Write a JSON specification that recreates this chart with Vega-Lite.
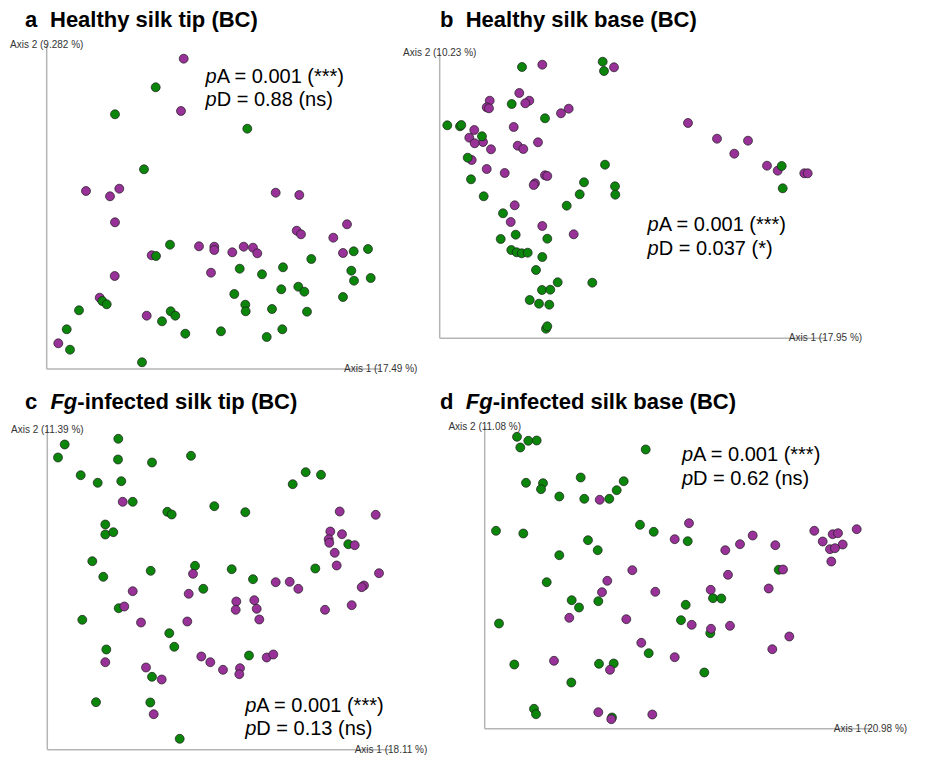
{
"$schema": "https://vega.github.io/schema/vega-lite/v6.json",
"padding": 0,
"background": "white",
"columns": 2,
"spacing": 0,
"bounds": "flush",
"config": {"view": {"stroke": null}, "font": "Liberation Sans"},
"datasets": {
"axes": [
{"panel":"a","x":0,"x2":334,"y":0,"y2":0},{"panel":"a","x":0,"x2":0,"y":0,"y2":324.5},
{"panel":"b","x":0,"x2":385.8,"y":0,"y2":0},{"panel":"b","x":0,"x2":0,"y":0,"y2":285.3},
{"panel":"c","x":0,"x2":343.7,"y":0,"y2":0},{"panel":"c","x":0,"x2":0,"y":0,"y2":320.3},
{"panel":"d","x":0,"x2":385.8,"y":0,"y2":0},{"panel":"d","x":0,"x2":0,"y":0,"y2":302.3}
],
"labels": [
{"panel":"a","role":"title","text":"a","x":-21.7,"y":342.3},
{"panel":"a","role":"title","text":"Healthy silk tip (BC)","x":3.3,"y":342.3},
{"panel":"a","role":"p","text":"p","x":170,"y":286},
{"panel":"a","role":"p","text":"p","x":170,"y":262.7},
{"panel":"a","role":"stat","text":"A = 0.001 (***)","x":170,"y":286},
{"panel":"a","role":"stat","text":"D = 0.88 (ns)","x":170,"y":262.7},
{"panel":"a","role":"axis","text":"Axis 2 (9.282 %)","x":0,"y":324.5},
{"panel":"a","role":"axis","text":"Axis 1 (17.49 %)","x":334,"y":0},
{"panel":"b","role":"title","text":"b","x":0.3,"y":311.6},
{"panel":"b","role":"title","text":"Healthy silk base (BC)","x":26,"y":311.6},
{"panel":"b","role":"p","text":"p","x":219,"y":107},
{"panel":"b","role":"p","text":"p","x":219,"y":83.3},
{"panel":"b","role":"stat","text":"A = 0.001 (***)","x":219,"y":107},
{"panel":"b","role":"stat","text":"D = 0.037 (*)","x":219,"y":83.3},
{"panel":"b","role":"axis","text":"Axis 2 (10.23 %)","x":0,"y":285.3},
{"panel":"b","role":"axis","text":"Axis 1 (17.95 %)","x":385.8,"y":0},
{"panel":"c","role":"title","text":"c","x":-22.3,"y":341},
{"panel":"c","role":"titleItalic","text":"Fg","x":30,"y":341},
{"panel":"c","role":"title","text":"-infected silk tip (BC)","x":30,"y":341},
{"panel":"c","role":"p","text":"p","x":209,"y":37.6},
{"panel":"c","role":"p","text":"p","x":209,"y":15.3},
{"panel":"c","role":"stat","text":"A = 0.001 (***)","x":209,"y":37.6},
{"panel":"c","role":"stat","text":"D = 0.13 (ns)","x":209,"y":15.3},
{"panel":"c","role":"axis","text":"Axis 2 (11.39 %)","x":0,"y":320.3},
{"panel":"c","role":"axis","text":"Axis 1 (18.11 %)","x":343.7,"y":0},
{"panel":"d","role":"title","text":"d","x":-44.7,"y":320},
{"panel":"d","role":"titleItalic","text":"Fg","x":8,"y":320},
{"panel":"d","role":"title","text":"-infected silk base (BC)","x":8,"y":320},
{"panel":"d","role":"p","text":"p","x":208.3,"y":268.3},
{"panel":"d","role":"p","text":"p","x":208.3,"y":244.3},
{"panel":"d","role":"stat","text":"A = 0.001 (***)","x":208.3,"y":268.3},
{"panel":"d","role":"stat","text":"D = 0.62 (ns)","x":208.3,"y":244.3},
{"panel":"d","role":"axis","text":"Axis 2 (11.08 %)","x":0,"y":302.3},
{"panel":"d","role":"axis","text":"Axis 1 (20.98 %)","x":385.8,"y":0}
],
"points": [
{"panel":"a","group":"G2","x":137.0,"y":310.3},{"panel":"a","group":"G2","x":134.3,"y":258.0},{"panel":"a","group":"G2","x":39.3,"y":178.0},{"panel":"a","group":"G2","x":63.3,"y":172.7},{"panel":"a","group":"G2","x":72.6,"y":180.3},{"panel":"a","group":"G2","x":68.3,"y":146.7},{"panel":"a","group":"G2","x":229.0,"y":176.3},{"panel":"a","group":"G2","x":252.6,"y":174.0},{"panel":"a","group":"G2","x":300.3,"y":144.7},{"panel":"a","group":"G2","x":250.0,"y":138.3},{"panel":"a","group":"G2","x":254.3,"y":134.7},{"panel":"a","group":"G2","x":286.6,"y":131.3},{"panel":"a","group":"G2","x":296.3,"y":116.0},{"panel":"a","group":"G2","x":152.3,"y":122.7},{"panel":"a","group":"G2","x":167.6,"y":122.3},{"panel":"a","group":"G2","x":167.6,"y":119.0},{"panel":"a","group":"G2","x":185.6,"y":116.7},{"panel":"a","group":"G2","x":197.0,"y":122.3},{"panel":"a","group":"G2","x":206.3,"y":121.3},{"panel":"a","group":"G2","x":210.6,"y":115.7},{"panel":"a","group":"G2","x":105.0,"y":113.7},{"panel":"a","group":"G2","x":164.3,"y":96.3},{"panel":"a","group":"G2","x":68.0,"y":93.0},{"panel":"a","group":"G2","x":53.0,"y":71.3},{"panel":"a","group":"G2","x":100.0,"y":53.3},{"panel":"a","group":"G2","x":11.6,"y":25.7},
{"panel":"a","group":"G1","x":109.0,"y":281.7},{"panel":"a","group":"G1","x":68.3,"y":254.7},{"panel":"a","group":"G1","x":200.6,"y":240.3},{"panel":"a","group":"G1","x":97.3,"y":199.7},{"panel":"a","group":"G1","x":123.3,"y":124.3},{"panel":"a","group":"G1","x":109.3,"y":113.0},{"panel":"a","group":"G1","x":321.3,"y":120.0},{"panel":"a","group":"G1","x":307.0,"y":117.7},{"panel":"a","group":"G1","x":264.6,"y":110.0},{"panel":"a","group":"G1","x":193.0,"y":100.3},{"panel":"a","group":"G1","x":236.3,"y":101.7},{"panel":"a","group":"G1","x":215.3,"y":94.7},{"panel":"a","group":"G1","x":304.6,"y":98.3},{"panel":"a","group":"G1","x":324.0,"y":91.0},{"panel":"a","group":"G1","x":307.3,"y":88.3},{"panel":"a","group":"G1","x":187.6,"y":75.0},{"panel":"a","group":"G1","x":234.6,"y":79.7},{"panel":"a","group":"G1","x":251.6,"y":82.3},{"panel":"a","group":"G1","x":257.6,"y":77.3},{"panel":"a","group":"G1","x":296.3,"y":72.0},{"panel":"a","group":"G1","x":198.6,"y":64.3},{"panel":"a","group":"G1","x":199.0,"y":57.7},{"panel":"a","group":"G1","x":225.3,"y":60.0},{"panel":"a","group":"G1","x":260.3,"y":57.3},{"panel":"a","group":"G1","x":55.6,"y":68.0},{"panel":"a","group":"G1","x":60.0,"y":64.7},{"panel":"a","group":"G1","x":32.3,"y":58.7},{"panel":"a","group":"G1","x":124.0,"y":57.7},{"panel":"a","group":"G1","x":128.6,"y":53.3},{"panel":"a","group":"G1","x":115.3,"y":47.7},{"panel":"a","group":"G1","x":20.0,"y":39.7},{"panel":"a","group":"G1","x":138.6,"y":35.3},{"panel":"a","group":"G1","x":174.3,"y":37.7},{"panel":"a","group":"G1","x":235.6,"y":39.7},{"panel":"a","group":"G1","x":220.0,"y":32.0},{"panel":"a","group":"G1","x":23.3,"y":19.3},{"panel":"a","group":"G1","x":95.3,"y":6.7},
{"panel":"b","group":"G2","x":102.6,"y":273.6},{"panel":"b","group":"G2","x":174.3,"y":271.0},{"panel":"b","group":"G2","x":79.6,"y":245.3},{"panel":"b","group":"G2","x":50.0,"y":237.6},{"panel":"b","group":"G2","x":47.0,"y":231.0},{"panel":"b","group":"G2","x":49.3,"y":230.0},{"panel":"b","group":"G2","x":89.6,"y":237.6},{"panel":"b","group":"G2","x":85.6,"y":235.0},{"panel":"b","group":"G2","x":129.0,"y":229.6},{"panel":"b","group":"G2","x":121.3,"y":225.0},{"panel":"b","group":"G2","x":74.0,"y":211.3},{"panel":"b","group":"G2","x":34.6,"y":208.3},{"panel":"b","group":"G2","x":29.6,"y":200.6},{"panel":"b","group":"G2","x":43.3,"y":196.3},{"panel":"b","group":"G2","x":35.0,"y":195.0},{"panel":"b","group":"G2","x":51.3,"y":189.0},{"panel":"b","group":"G2","x":78.0,"y":192.6},{"panel":"b","group":"G2","x":83.6,"y":189.3},{"panel":"b","group":"G2","x":98.3,"y":196.0},{"panel":"b","group":"G2","x":32.0,"y":178.3},{"panel":"b","group":"G2","x":47.0,"y":169.3},{"panel":"b","group":"G2","x":65.0,"y":165.3},{"panel":"b","group":"G2","x":105.3,"y":163.0},{"panel":"b","group":"G2","x":107.6,"y":162.3},{"panel":"b","group":"G2","x":95.3,"y":155.0},{"panel":"b","group":"G2","x":94.0,"y":153.3},{"panel":"b","group":"G2","x":75.0,"y":133.0},{"panel":"b","group":"G2","x":71.0,"y":116.3},{"panel":"b","group":"G2","x":102.6,"y":112.3},{"panel":"b","group":"G2","x":134.0,"y":104.0},{"panel":"b","group":"G2","x":248.3,"y":215.3},{"panel":"b","group":"G2","x":277.3,"y":199.6},{"panel":"b","group":"G2","x":308.3,"y":197.6},{"panel":"b","group":"G2","x":294.6,"y":184.6},{"panel":"b","group":"G2","x":327.3,"y":172.6},{"panel":"b","group":"G2","x":338.0,"y":167.6},{"panel":"b","group":"G2","x":364.6,"y":165.0},{"panel":"b","group":"G2","x":368.0,"y":165.0},
{"panel":"b","group":"G1","x":82.3,"y":271.3},{"panel":"b","group":"G1","x":163.0,"y":276.6},{"panel":"b","group":"G1","x":164.3,"y":267.3},{"panel":"b","group":"G1","x":72.0,"y":234.3},{"panel":"b","group":"G1","x":105.3,"y":220.0},{"panel":"b","group":"G1","x":7.6,"y":213.0},{"panel":"b","group":"G1","x":20.3,"y":212.0},{"panel":"b","group":"G1","x":21.6,"y":213.3},{"panel":"b","group":"G1","x":42.3,"y":202.0},{"panel":"b","group":"G1","x":28.0,"y":180.6},{"panel":"b","group":"G1","x":165.3,"y":173.6},{"panel":"b","group":"G1","x":31.3,"y":159.0},{"panel":"b","group":"G1","x":144.3,"y":156.0},{"panel":"b","group":"G1","x":175.3,"y":152.0},{"panel":"b","group":"G1","x":175.6,"y":143.6},{"panel":"b","group":"G1","x":140.0,"y":144.0},{"panel":"b","group":"G1","x":44.0,"y":142.0},{"panel":"b","group":"G1","x":127.0,"y":132.6},{"panel":"b","group":"G1","x":63.3,"y":125.0},{"panel":"b","group":"G1","x":76.0,"y":103.6},{"panel":"b","group":"G1","x":61.0,"y":99.3},{"panel":"b","group":"G1","x":107.6,"y":99.6},{"panel":"b","group":"G1","x":71.6,"y":88.3},{"panel":"b","group":"G1","x":77.0,"y":86.0},{"panel":"b","group":"G1","x":82.0,"y":85.0},{"panel":"b","group":"G1","x":88.0,"y":85.6},{"panel":"b","group":"G1","x":102.6,"y":81.3},{"panel":"b","group":"G1","x":96.3,"y":68.3},{"panel":"b","group":"G1","x":118.0,"y":56.0},{"panel":"b","group":"G1","x":152.6,"y":55.6},{"panel":"b","group":"G1","x":102.3,"y":48.3},{"panel":"b","group":"G1","x":110.6,"y":48.6},{"panel":"b","group":"G1","x":90.0,"y":38.3},{"panel":"b","group":"G1","x":99.3,"y":34.6},{"panel":"b","group":"G1","x":109.6,"y":33.6},{"panel":"b","group":"G1","x":106.3,"y":9.6},{"panel":"b","group":"G1","x":107.6,"y":12.0},{"panel":"b","group":"G1","x":342.0,"y":172.3},{"panel":"b","group":"G1","x":343.0,"y":150.0},
{"panel":"c","group":"G1","x":71.0,"y":311.0},{"panel":"c","group":"G1","x":17.4,"y":305.3},{"panel":"c","group":"G1","x":10.7,"y":292.3},{"panel":"c","group":"G1","x":70.7,"y":290.3},{"panel":"c","group":"G1","x":104.7,"y":287.3},{"panel":"c","group":"G1","x":143.7,"y":294.0},{"panel":"c","group":"G1","x":33.4,"y":274.6},{"panel":"c","group":"G1","x":50.4,"y":267.0},{"panel":"c","group":"G1","x":74.0,"y":268.6},{"panel":"c","group":"G1","x":258.4,"y":277.6},{"panel":"c","group":"G1","x":273.7,"y":275.0},{"panel":"c","group":"G1","x":245.4,"y":265.6},{"panel":"c","group":"G1","x":85.4,"y":248.0},{"panel":"c","group":"G1","x":120.0,"y":238.0},{"panel":"c","group":"G1","x":124.4,"y":235.3},{"panel":"c","group":"G1","x":167.0,"y":243.6},{"panel":"c","group":"G1","x":198.0,"y":237.6},{"panel":"c","group":"G1","x":58.0,"y":225.3},{"panel":"c","group":"G1","x":58.0,"y":215.3},{"panel":"c","group":"G1","x":66.0,"y":217.6},{"panel":"c","group":"G1","x":45.0,"y":188.6},{"panel":"c","group":"G1","x":56.0,"y":173.0},{"panel":"c","group":"G1","x":103.4,"y":179.0},{"panel":"c","group":"G1","x":147.7,"y":184.0},{"panel":"c","group":"G1","x":184.4,"y":180.6},{"panel":"c","group":"G1","x":268.0,"y":181.3},{"panel":"c","group":"G1","x":301.0,"y":205.6},{"panel":"c","group":"G1","x":205.7,"y":170.6},{"panel":"c","group":"G1","x":156.0,"y":161.0},{"panel":"c","group":"G1","x":71.4,"y":141.6},{"panel":"c","group":"G1","x":35.0,"y":130.0},{"panel":"c","group":"G1","x":122.0,"y":116.6},{"panel":"c","group":"G1","x":127.0,"y":103.0},{"panel":"c","group":"G1","x":59.0,"y":100.3},{"panel":"c","group":"G1","x":201.7,"y":94.3},{"panel":"c","group":"G1","x":104.7,"y":73.0},{"panel":"c","group":"G1","x":48.7,"y":47.6},{"panel":"c","group":"G1","x":103.0,"y":47.3},{"panel":"c","group":"G1","x":132.4,"y":11.0},
{"panel":"c","group":"G2","x":75.4,"y":248.0},{"panel":"c","group":"G2","x":292.4,"y":238.3},{"panel":"c","group":"G2","x":328.4,"y":235.0},{"panel":"c","group":"G2","x":283.0,"y":218.3},{"panel":"c","group":"G2","x":294.7,"y":215.6},{"panel":"c","group":"G2","x":281.4,"y":210.6},{"panel":"c","group":"G2","x":282.0,"y":207.0},{"panel":"c","group":"G2","x":307.4,"y":204.6},{"panel":"c","group":"G2","x":287.4,"y":197.0},{"panel":"c","group":"G2","x":289.4,"y":184.3},{"panel":"c","group":"G2","x":331.7,"y":176.6},{"panel":"c","group":"G2","x":145.7,"y":176.0},{"panel":"c","group":"G2","x":228.4,"y":167.6},{"panel":"c","group":"G2","x":242.4,"y":168.0},{"panel":"c","group":"G2","x":251.0,"y":161.0},{"panel":"c","group":"G2","x":316.7,"y":164.3},{"panel":"c","group":"G2","x":314.4,"y":162.6},{"panel":"c","group":"G2","x":85.4,"y":158.6},{"panel":"c","group":"G2","x":141.4,"y":156.0},{"panel":"c","group":"G2","x":189.0,"y":148.3},{"panel":"c","group":"G2","x":188.4,"y":140.0},{"panel":"c","group":"G2","x":207.0,"y":149.6},{"panel":"c","group":"G2","x":209.4,"y":141.0},{"panel":"c","group":"G2","x":212.0,"y":130.3},{"panel":"c","group":"G2","x":277.7,"y":140.0},{"panel":"c","group":"G2","x":304.4,"y":144.6},{"panel":"c","group":"G2","x":77.0,"y":143.3},{"panel":"c","group":"G2","x":93.7,"y":127.3},{"panel":"c","group":"G2","x":140.0,"y":128.3},{"panel":"c","group":"G2","x":154.0,"y":93.3},{"panel":"c","group":"G2","x":163.0,"y":87.6},{"panel":"c","group":"G2","x":175.7,"y":80.0},{"panel":"c","group":"G2","x":192.7,"y":81.6},{"panel":"c","group":"G2","x":192.0,"y":75.6},{"panel":"c","group":"G2","x":219.4,"y":92.3},{"panel":"c","group":"G2","x":226.0,"y":95.3},{"panel":"c","group":"G2","x":58.0,"y":87.6},{"panel":"c","group":"G2","x":98.7,"y":82.3},{"panel":"c","group":"G2","x":114.4,"y":70.3},{"panel":"c","group":"G2","x":106.4,"y":35.6},
{"panel":"d","group":"G1","x":32.3,"y":292.0},{"panel":"d","group":"G1","x":43.6,"y":288.0},{"panel":"d","group":"G1","x":52.0,"y":288.3},{"panel":"d","group":"G1","x":35.6,"y":281.3},{"panel":"d","group":"G1","x":161.0,"y":279.3},{"panel":"d","group":"G1","x":41.3,"y":246.0},{"panel":"d","group":"G1","x":58.3,"y":245.6},{"panel":"d","group":"G1","x":56.3,"y":239.6},{"panel":"d","group":"G1","x":96.0,"y":251.3},{"panel":"d","group":"G1","x":139.0,"y":247.6},{"panel":"d","group":"G1","x":132.0,"y":238.6},{"panel":"d","group":"G1","x":74.6,"y":232.3},{"panel":"d","group":"G1","x":99.6,"y":230.0},{"panel":"d","group":"G1","x":124.6,"y":230.0},{"panel":"d","group":"G1","x":11.3,"y":198.0},{"panel":"d","group":"G1","x":38.6,"y":195.3},{"panel":"d","group":"G1","x":155.3,"y":204.0},{"panel":"d","group":"G1","x":169.0,"y":197.0},{"panel":"d","group":"G1","x":103.3,"y":188.6},{"panel":"d","group":"G1","x":113.0,"y":178.6},{"panel":"d","group":"G1","x":203.0,"y":187.6},{"panel":"d","group":"G1","x":74.6,"y":173.6},{"panel":"d","group":"G1","x":62.0,"y":146.6},{"panel":"d","group":"G1","x":294.0,"y":159.0},{"panel":"d","group":"G1","x":87.0,"y":128.6},{"panel":"d","group":"G1","x":94.3,"y":121.3},{"panel":"d","group":"G1","x":113.6,"y":127.6},{"panel":"d","group":"G1","x":228.3,"y":130.6},{"panel":"d","group":"G1","x":236.6,"y":130.3},{"panel":"d","group":"G1","x":201.0,"y":124.0},{"panel":"d","group":"G1","x":14.3,"y":105.3},{"panel":"d","group":"G1","x":196.3,"y":108.6},{"panel":"d","group":"G1","x":225.6,"y":95.6},{"panel":"d","group":"G1","x":164.0,"y":75.6},{"panel":"d","group":"G1","x":29.6,"y":64.3},{"panel":"d","group":"G1","x":114.3,"y":65.0},{"panel":"d","group":"G1","x":129.0,"y":65.3},{"panel":"d","group":"G1","x":219.6,"y":56.3},{"panel":"d","group":"G1","x":86.6,"y":46.3},{"panel":"d","group":"G1","x":49.3,"y":20.0},{"panel":"d","group":"G1","x":51.3,"y":14.6},{"panel":"d","group":"G1","x":127.3,"y":11.3},
{"panel":"d","group":"G2","x":115.0,"y":229.0},{"panel":"d","group":"G2","x":204.3,"y":205.6},{"panel":"d","group":"G2","x":190.0,"y":189.6},{"panel":"d","group":"G2","x":268.0,"y":193.3},{"panel":"d","group":"G2","x":255.3,"y":184.6},{"panel":"d","group":"G2","x":240.6,"y":178.6},{"panel":"d","group":"G2","x":290.6,"y":183.6},{"panel":"d","group":"G2","x":329.6,"y":198.0},{"panel":"d","group":"G2","x":348.0,"y":194.6},{"panel":"d","group":"G2","x":353.3,"y":195.6},{"panel":"d","group":"G2","x":372.0,"y":199.6},{"panel":"d","group":"G2","x":338.0,"y":187.3},{"panel":"d","group":"G2","x":358.0,"y":184.3},{"panel":"d","group":"G2","x":345.3,"y":179.6},{"panel":"d","group":"G2","x":350.3,"y":180.6},{"panel":"d","group":"G2","x":346.6,"y":167.3},{"panel":"d","group":"G2","x":298.3,"y":159.3},{"panel":"d","group":"G2","x":147.6,"y":158.6},{"panel":"d","group":"G2","x":243.3,"y":154.0},{"panel":"d","group":"G2","x":122.6,"y":148.0},{"panel":"d","group":"G2","x":117.3,"y":136.6},{"panel":"d","group":"G2","x":170.6,"y":137.0},{"panel":"d","group":"G2","x":226.0,"y":139.0},{"panel":"d","group":"G2","x":284.0,"y":140.3},{"panel":"d","group":"G2","x":84.6,"y":111.0},{"panel":"d","group":"G2","x":141.6,"y":109.6},{"panel":"d","group":"G2","x":207.0,"y":104.0},{"panel":"d","group":"G2","x":245.3,"y":103.0},{"panel":"d","group":"G2","x":226.3,"y":100.0},{"panel":"d","group":"G2","x":304.6,"y":92.3},{"panel":"d","group":"G2","x":287.6,"y":79.6},{"panel":"d","group":"G2","x":156.6,"y":86.0},{"panel":"d","group":"G2","x":190.0,"y":71.6},{"panel":"d","group":"G2","x":69.3,"y":68.0},{"panel":"d","group":"G2","x":125.3,"y":59.0},{"panel":"d","group":"G2","x":113.6,"y":16.6},{"panel":"d","group":"G2","x":167.6,"y":14.3},{"panel":"d","group":"G2","x":126.6,"y":9.6}
]
},
"concat": [
{"width": 467, "height": 378.5,
 "layer": [
  {"data": {"name": "axes"}, "transform": [{"filter": "datum.panel === 'a'"}], "mark": {"type": "rule", "color": "#b5b5b5", "strokeWidth": 1.5},
   "encoding": {"x": {"field": "x", "type": "quantitative", "scale": {"domain": [-46.7, 420.3], "nice": false, "zero": false}, "axis": null}, "x2": {"field": "x2"},
                "y": {"field": "y", "type": "quantitative", "scale": {"domain": [-9.5, 369], "nice": false, "zero": false}, "axis": null}, "y2": {"field": "y2"}}},
  {"data": {"name": "points"}, "transform": [{"filter": "datum.panel === 'a'"}], "mark": {"type": "circle", "size": 80, "opacity": 1, "stroke": "#1c1c1c", "strokeWidth": 0.7},
   "encoding": {"x": {"field": "x", "type": "quantitative"}, "y": {"field": "y", "type": "quantitative"},
                "color": {"field": "group", "type": "nominal", "scale": {"domain": ["G1", "G2"], "range": ["#0b860b", "#983298"]}, "legend": null}}},
  {"data": {"name": "labels"}, "transform": [{"filter": "datum.panel === 'a' && datum.role === 'axis'"}], "mark": {"type": "text", "align": "center", "baseline": "middle", "fontSize": 10, "color": "#333333"},
   "encoding": {"x": {"field": "x", "type": "quantitative"}, "y": {"field": "y", "type": "quantitative"}, "text": {"field": "text"}}},
  {"data": {"name": "labels"}, "transform": [{"filter": "datum.panel === 'a' && datum.role === 'title'"}], "mark": {"type": "text", "align": "left", "baseline": "alphabetic", "fontSize": 22, "fontWeight": "bold", "color": "black"},
   "encoding": {"x": {"field": "x", "type": "quantitative"}, "y": {"field": "y", "type": "quantitative"}, "text": {"field": "text"}}},
  {"data": {"name": "labels"}, "transform": [{"filter": "datum.panel === 'a' && datum.role === 'p'"}], "mark": {"type": "text", "align": "right", "baseline": "alphabetic", "fontSize": 20, "fontStyle": "italic", "color": "black"},
   "encoding": {"x": {"field": "x", "type": "quantitative"}, "y": {"field": "y", "type": "quantitative"}, "text": {"field": "text"}}},
  {"data": {"name": "labels"}, "transform": [{"filter": "datum.panel === 'a' && datum.role === 'stat'"}], "mark": {"type": "text", "align": "left", "baseline": "alphabetic", "fontSize": 20, "color": "black"},
   "encoding": {"x": {"field": "x", "type": "quantitative"}, "y": {"field": "y", "type": "quantitative"}, "text": {"field": "text"}}}
 ]},
{"width": 467, "height": 378.5,
 "layer": [
  {"data": {"name": "axes"}, "transform": [{"filter": "datum.panel === 'b'"}], "mark": {"type": "rule", "color": "#b5b5b5", "strokeWidth": 1.5},
   "encoding": {"x": {"field": "x", "type": "quantitative", "scale": {"domain": [27.3, 494.3], "nice": false, "zero": false}, "axis": null}, "x2": {"field": "x2"},
                "y": {"field": "y", "type": "quantitative", "scale": {"domain": [-40.2, 338.3], "nice": false, "zero": false}, "axis": null}, "y2": {"field": "y2"}}},
  {"data": {"name": "points"}, "transform": [{"filter": "datum.panel === 'b'"}], "mark": {"type": "circle", "size": 80, "opacity": 1, "stroke": "#1c1c1c", "strokeWidth": 0.7},
   "encoding": {"x": {"field": "x", "type": "quantitative"}, "y": {"field": "y", "type": "quantitative"},
                "color": {"field": "group", "type": "nominal", "scale": {"domain": ["G1", "G2"], "range": ["#0b860b", "#983298"]}, "legend": null}}},
  {"data": {"name": "labels"}, "transform": [{"filter": "datum.panel === 'b' && datum.role === 'axis'"}], "mark": {"type": "text", "align": "center", "baseline": "middle", "fontSize": 10, "color": "#333333"},
   "encoding": {"x": {"field": "x", "type": "quantitative"}, "y": {"field": "y", "type": "quantitative"}, "text": {"field": "text"}}},
  {"data": {"name": "labels"}, "transform": [{"filter": "datum.panel === 'b' && datum.role === 'title'"}], "mark": {"type": "text", "align": "left", "baseline": "alphabetic", "fontSize": 22, "fontWeight": "bold", "color": "black"},
   "encoding": {"x": {"field": "x", "type": "quantitative"}, "y": {"field": "y", "type": "quantitative"}, "text": {"field": "text"}}},
  {"data": {"name": "labels"}, "transform": [{"filter": "datum.panel === 'b' && datum.role === 'p'"}], "mark": {"type": "text", "align": "right", "baseline": "alphabetic", "fontSize": 20, "fontStyle": "italic", "color": "black"},
   "encoding": {"x": {"field": "x", "type": "quantitative"}, "y": {"field": "y", "type": "quantitative"}, "text": {"field": "text"}}},
  {"data": {"name": "labels"}, "transform": [{"filter": "datum.panel === 'b' && datum.role === 'stat'"}], "mark": {"type": "text", "align": "left", "baseline": "alphabetic", "fontSize": 20, "color": "black"},
   "encoding": {"x": {"field": "x", "type": "quantitative"}, "y": {"field": "y", "type": "quantitative"}, "text": {"field": "text"}}}
 ]},
{"width": 467, "height": 378.5,
 "layer": [
  {"data": {"name": "axes"}, "transform": [{"filter": "datum.panel === 'c'"}], "mark": {"type": "rule", "color": "#b5b5b5", "strokeWidth": 1.5},
   "encoding": {"x": {"field": "x", "type": "quantitative", "scale": {"domain": [-47.3, 419.7], "nice": false, "zero": false}, "axis": null}, "x2": {"field": "x2"},
                "y": {"field": "y", "type": "quantitative", "scale": {"domain": [-7.7, 370.8], "nice": false, "zero": false}, "axis": null}, "y2": {"field": "y2"}}},
  {"data": {"name": "points"}, "transform": [{"filter": "datum.panel === 'c'"}], "mark": {"type": "circle", "size": 80, "opacity": 1, "stroke": "#1c1c1c", "strokeWidth": 0.7},
   "encoding": {"x": {"field": "x", "type": "quantitative"}, "y": {"field": "y", "type": "quantitative"},
                "color": {"field": "group", "type": "nominal", "scale": {"domain": ["G1", "G2"], "range": ["#0b860b", "#983298"]}, "legend": null}}},
  {"data": {"name": "labels"}, "transform": [{"filter": "datum.panel === 'c' && datum.role === 'axis'"}], "mark": {"type": "text", "align": "center", "baseline": "middle", "fontSize": 10, "color": "#333333"},
   "encoding": {"x": {"field": "x", "type": "quantitative"}, "y": {"field": "y", "type": "quantitative"}, "text": {"field": "text"}}},
  {"data": {"name": "labels"}, "transform": [{"filter": "datum.panel === 'c' && datum.role === 'title'"}], "mark": {"type": "text", "align": "left", "baseline": "alphabetic", "fontSize": 22, "fontWeight": "bold", "color": "black"},
   "encoding": {"x": {"field": "x", "type": "quantitative"}, "y": {"field": "y", "type": "quantitative"}, "text": {"field": "text"}}},
  {"data": {"name": "labels"}, "transform": [{"filter": "datum.panel === 'c' && datum.role === 'titleItalic'"}], "mark": {"type": "text", "align": "right", "baseline": "alphabetic", "fontSize": 22, "fontWeight": "bold", "fontStyle": "italic", "color": "black"},
   "encoding": {"x": {"field": "x", "type": "quantitative"}, "y": {"field": "y", "type": "quantitative"}, "text": {"field": "text"}}},
  {"data": {"name": "labels"}, "transform": [{"filter": "datum.panel === 'c' && datum.role === 'p'"}], "mark": {"type": "text", "align": "right", "baseline": "alphabetic", "fontSize": 20, "fontStyle": "italic", "color": "black"},
   "encoding": {"x": {"field": "x", "type": "quantitative"}, "y": {"field": "y", "type": "quantitative"}, "text": {"field": "text"}}},
  {"data": {"name": "labels"}, "transform": [{"filter": "datum.panel === 'c' && datum.role === 'stat'"}], "mark": {"type": "text", "align": "left", "baseline": "alphabetic", "fontSize": 20, "color": "black"},
   "encoding": {"x": {"field": "x", "type": "quantitative"}, "y": {"field": "y", "type": "quantitative"}, "text": {"field": "text"}}}
 ]},
{"width": 467, "height": 378.5,
 "layer": [
  {"data": {"name": "axes"}, "transform": [{"filter": "datum.panel === 'd'"}], "mark": {"type": "rule", "color": "#b5b5b5", "strokeWidth": 1.5},
   "encoding": {"x": {"field": "x", "type": "quantitative", "scale": {"domain": [-17.7, 449.3], "nice": false, "zero": false}, "axis": null}, "x2": {"field": "x2"},
                "y": {"field": "y", "type": "quantitative", "scale": {"domain": [-28.7, 349.8], "nice": false, "zero": false}, "axis": null}, "y2": {"field": "y2"}}},
  {"data": {"name": "points"}, "transform": [{"filter": "datum.panel === 'd'"}], "mark": {"type": "circle", "size": 80, "opacity": 1, "stroke": "#1c1c1c", "strokeWidth": 0.7},
   "encoding": {"x": {"field": "x", "type": "quantitative"}, "y": {"field": "y", "type": "quantitative"},
                "color": {"field": "group", "type": "nominal", "scale": {"domain": ["G1", "G2"], "range": ["#0b860b", "#983298"]}, "legend": null}}},
  {"data": {"name": "labels"}, "transform": [{"filter": "datum.panel === 'd' && datum.role === 'axis'"}], "mark": {"type": "text", "align": "center", "baseline": "middle", "fontSize": 10, "color": "#333333"},
   "encoding": {"x": {"field": "x", "type": "quantitative"}, "y": {"field": "y", "type": "quantitative"}, "text": {"field": "text"}}},
  {"data": {"name": "labels"}, "transform": [{"filter": "datum.panel === 'd' && datum.role === 'title'"}], "mark": {"type": "text", "align": "left", "baseline": "alphabetic", "fontSize": 22, "fontWeight": "bold", "color": "black"},
   "encoding": {"x": {"field": "x", "type": "quantitative"}, "y": {"field": "y", "type": "quantitative"}, "text": {"field": "text"}}},
  {"data": {"name": "labels"}, "transform": [{"filter": "datum.panel === 'd' && datum.role === 'titleItalic'"}], "mark": {"type": "text", "align": "right", "baseline": "alphabetic", "fontSize": 22, "fontWeight": "bold", "fontStyle": "italic", "color": "black"},
   "encoding": {"x": {"field": "x", "type": "quantitative"}, "y": {"field": "y", "type": "quantitative"}, "text": {"field": "text"}}},
  {"data": {"name": "labels"}, "transform": [{"filter": "datum.panel === 'd' && datum.role === 'p'"}], "mark": {"type": "text", "align": "right", "baseline": "alphabetic", "fontSize": 20, "fontStyle": "italic", "color": "black"},
   "encoding": {"x": {"field": "x", "type": "quantitative"}, "y": {"field": "y", "type": "quantitative"}, "text": {"field": "text"}}},
  {"data": {"name": "labels"}, "transform": [{"filter": "datum.panel === 'd' && datum.role === 'stat'"}], "mark": {"type": "text", "align": "left", "baseline": "alphabetic", "fontSize": 20, "color": "black"},
   "encoding": {"x": {"field": "x", "type": "quantitative"}, "y": {"field": "y", "type": "quantitative"}, "text": {"field": "text"}}}
 ]}
]
}
